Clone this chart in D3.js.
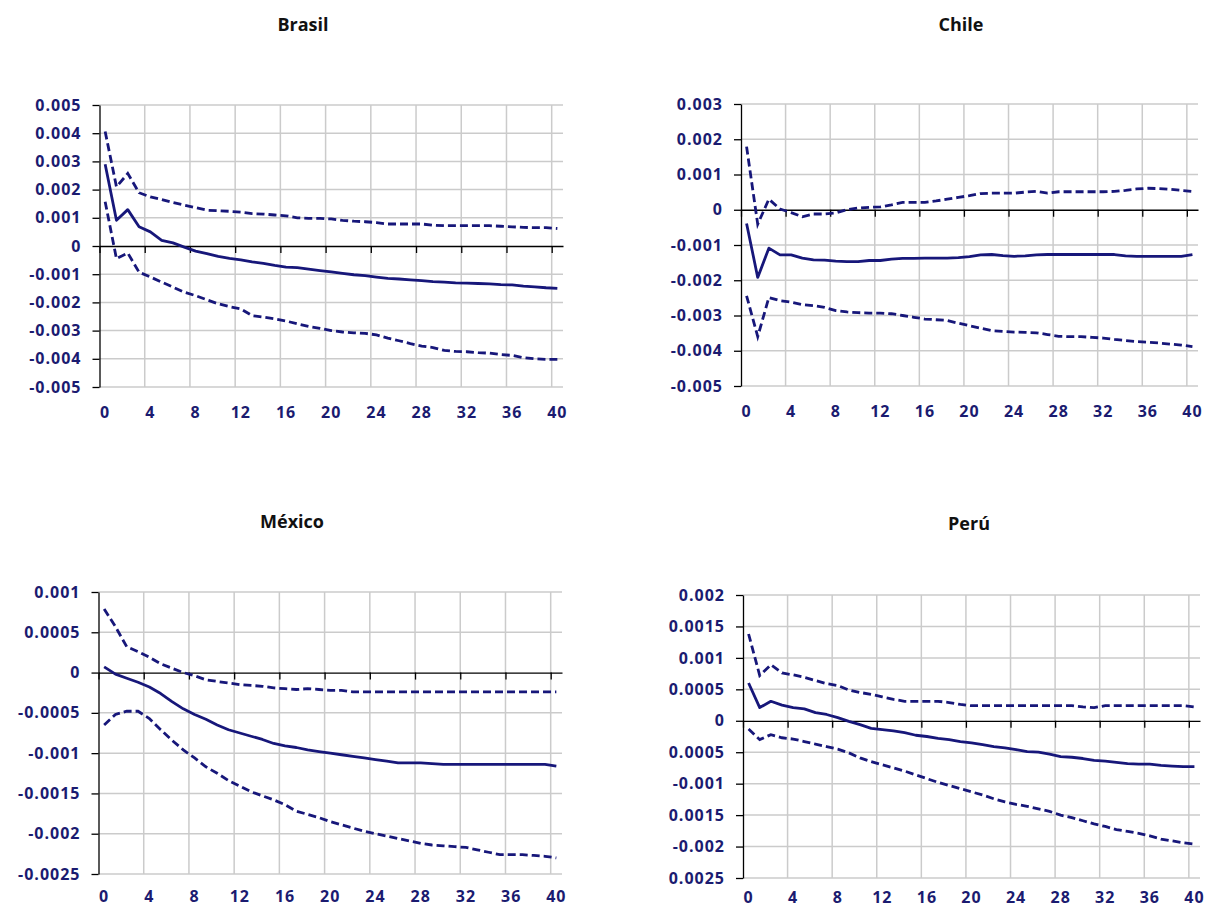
<!DOCTYPE html>
<html>
<head>
<meta charset="utf-8">
<script src="https://cdn.jsdelivr.net/npm/d3@7/dist/d3.min.js"></script>
<style>
  html, body { margin: 0; padding: 0; background: #ffffff; }
  svg { display: block; }
  .tick text { font-family: "Open Sans", sans-serif; font-weight: 700; font-size: 16px; fill: #1b1b70; letter-spacing: 1px; }
  .title { font-family: "Open Sans", sans-serif; font-weight: 700; font-size: 18px; fill: #111111; }
</style>
</head>
<body>
<svg id="chart" width="1211" height="909"></svg>
<script>
// Horizons (quarters after the shock)
const horizons = d3.range(0, 41);
const horizonLabels = [0, 4, 8, 12, 16, 20, 24, 28, 32, 36, 40];

// Brasil: impulse response and confidence bands
const brasilIrf = [0.0029, 0.00091, 0.00129, 0.00068, 0.0005, 0.0002, 0.00011, -0.00004, -0.00018, -0.00027, -0.00037, -0.00044, -0.00049, -0.00056, -0.00062, -0.00069, -0.00075, -0.00077, -0.00082, -0.00087, -0.00092, -0.00097, -0.00102, -0.00105, -0.0011, -0.00115, -0.00117, -0.0012, -0.00123, -0.00126, -0.00128, -0.00131, -0.00132, -0.00133, -0.00134, -0.00137, -0.00138, -0.00142, -0.00145, -0.00148, -0.0015];
const brasilUpper = [0.00406, 0.0021, 0.00257, 0.00189, 0.00174, 0.00165, 0.00154, 0.00145, 0.00136, 0.00127, 0.00125, 0.00123, 0.0012, 0.00115, 0.00113, 0.0011, 0.00107, 0.001, 0.00098, 0.00098, 0.00096, 0.00091, 0.00088, 0.00086, 0.00083, 0.00078, 0.00078, 0.00078, 0.00078, 0.00074, 0.00072, 0.00072, 0.00072, 0.00072, 0.00072, 0.0007, 0.00068, 0.00066, 0.00065, 0.00065, 0.00062];
const brasilLower = [0.00157, -0.00045, -0.00025, -0.00093, -0.0011, -0.00128, -0.00146, -0.00164, -0.00176, -0.00191, -0.00205, -0.00215, -0.00223, -0.00247, -0.00252, -0.00258, -0.00266, -0.00276, -0.00285, -0.00292, -0.003, -0.00305, -0.00308, -0.0031, -0.00315, -0.00327, -0.00336, -0.00346, -0.00355, -0.0036, -0.0037, -0.00374, -0.00375, -0.00378, -0.0038, -0.00385, -0.00388, -0.00396, -0.004, -0.00402, -0.00402];
const brasilTicks = [0.005, 0.004, 0.003, 0.002, 0.001, 0, -0.001, -0.002, -0.003, -0.004, -0.005];
const brasilTickText = ["0.005", "0.004", "0.003", "0.002", "0.001", "0", "-0.001", "-0.002", "-0.003", "-0.004", "-0.005"];

// Chile
const chileIrf = [-0.00039, -0.00192, -0.00109, -0.00128, -0.00128, -0.00137, -0.00142, -0.00143, -0.00146, -0.00147, -0.00147, -0.00144, -0.00144, -0.0014, -0.00138, -0.00138, -0.00137, -0.00137, -0.00137, -0.00136, -0.00133, -0.00128, -0.00127, -0.0013, -0.00132, -0.00131, -0.00128, -0.00127, -0.00127, -0.00127, -0.00127, -0.00127, -0.00127, -0.00127, -0.00131, -0.00132, -0.00132, -0.00132, -0.00132, -0.00132, -0.00127];
const chileUpper = [0.00179, -0.00041, 0.0003, 0.00002, -0.00008, -0.0002, -0.00012, -0.00012, -0.00009, 0, 0.00005, 0.00007, 0.00008, 0.00014, 0.00021, 0.00021, 0.00021, 0.00025, 0.0003, 0.00035, 0.0004, 0.00046, 0.00047, 0.00047, 0.00047, 0.0005, 0.00052, 0.00047, 0.00051, 0.00051, 0.00051, 0.00051, 0.00051, 0.00052, 0.00055, 0.00059, 0.00061, 0.0006, 0.00058, 0.00055, 0.00052];
const chileLower = [-0.00244, -0.0036, -0.00249, -0.00258, -0.00262, -0.00269, -0.00272, -0.00277, -0.00286, -0.0029, -0.00292, -0.00293, -0.00293, -0.00295, -0.003, -0.00305, -0.0031, -0.00312, -0.00314, -0.00322, -0.00329, -0.00336, -0.00343, -0.00345, -0.00347, -0.00348, -0.00349, -0.00354, -0.00359, -0.0036, -0.0036, -0.00362, -0.00364, -0.00368, -0.00371, -0.00374, -0.00376, -0.00378, -0.00381, -0.00384, -0.00388];
const chileTicks = [0.003, 0.002, 0.001, 0, -0.001, -0.002, -0.003, -0.004, -0.005];
const chileTickText = ["0.003", "0.002", "0.001", "0", "-0.001", "-0.002", "-0.003", "-0.004", "-0.005"];

// México
const mexicoIrf = [0.00007, -0.00002, -0.00007, -0.00012, -0.00018, -0.00026, -0.00036, -0.00045, -0.00052, -0.00058, -0.00065, -0.00071, -0.00075, -0.00079, -0.00083, -0.00088, -0.00091, -0.00093, -0.00096, -0.00098, -0.001, -0.00102, -0.00104, -0.00106, -0.00108, -0.0011, -0.00112, -0.00112, -0.00112, -0.00113, -0.00114, -0.00114, -0.00114, -0.00114, -0.00114, -0.00114, -0.00114, -0.00114, -0.00114, -0.00114, -0.00116];
const mexicoUpper = [0.00079, 0.00057, 0.00032, 0.00026, 0.00019, 0.00011, 0.000054, 0, -0.00004, -0.00009, -0.00011, -0.00013, -0.00015, -0.00016, -0.00017, -0.00019, -0.0002, -0.00021, -0.0002, -0.00021, -0.00022, -0.00022, -0.00024, -0.00024, -0.00024, -0.00024, -0.00024, -0.00024, -0.00024, -0.00024, -0.00024, -0.00024, -0.00024, -0.00024, -0.00024, -0.00024, -0.00024, -0.00024, -0.00024, -0.00024, -0.00024];
const mexicoLower = [-0.00065, -0.00052, -0.00048, -0.00048, -0.00057, -0.00071, -0.00084, -0.00096, -0.00106, -0.00117, -0.00125, -0.00134, -0.00141, -0.00148, -0.00153, -0.00158, -0.00164, -0.00172, -0.00176, -0.0018, -0.00185, -0.00189, -0.00193, -0.00197, -0.002, -0.00203, -0.00206, -0.00209, -0.00212, -0.00214, -0.00215, -0.00216, -0.00217, -0.0022, -0.00223, -0.00226, -0.00226, -0.00226, -0.00227, -0.00228, -0.0023];
const mexicoTicks = [0.001, 0.0005, 0, -0.0005, -0.001, -0.0015, -0.002, -0.0025];
const mexicoTickText = ["0.001", "0.0005", "0", "-0.0005", "-0.001", "-0.0015", "-0.002", "-0.0025"];

// Perú
const peruIrf = [0.0006, 0.00021, 0.00031, 0.00025, 0.00021, 0.00019, 0.00013, 0.0001, 0.00005, -0.00001, -0.00006, -0.00012, -0.00014, -0.00016, -0.00019, -0.00023, -0.00025, -0.00028, -0.0003, -0.00033, -0.00035, -0.00038, -0.00041, -0.00043, -0.00046, -0.00049, -0.0005, -0.00053, -0.00057, -0.00058, -0.0006, -0.00063, -0.00064, -0.00066, -0.00068, -0.00069, -0.00069, -0.00071, -0.00072, -0.00073, -0.00073];
const peruUpper = [0.00138, 0.00072, 0.00089, 0.00076, 0.00073, 0.00069, 0.00064, 0.00059, 0.00056, 0.00049, 0.00045, 0.00042, 0.00038, 0.00034, 0.00031, 0.00031, 0.00031, 0.00031, 0.00029, 0.00026, 0.00024, 0.00024, 0.00024, 0.00024, 0.00024, 0.00024, 0.00024, 0.00024, 0.00024, 0.00024, 0.00022, 0.00021, 0.00024, 0.00024, 0.00024, 0.00024, 0.00024, 0.00024, 0.00024, 0.00024, 0.00022];
const peruLower = [-0.00013, -0.0003, -0.00022, -0.00027, -0.00029, -0.00033, -0.00037, -0.00041, -0.00045, -0.00051, -0.00059, -0.00065, -0.0007, -0.00075, -0.0008, -0.00086, -0.00092, -0.00098, -0.00103, -0.00108, -0.00113, -0.00118, -0.00124, -0.00129, -0.00133, -0.00136, -0.0014, -0.00144, -0.0015, -0.00154, -0.00159, -0.00164, -0.00168, -0.00173, -0.00176, -0.00179, -0.00183, -0.00188, -0.00191, -0.00194, -0.00196];
const peruTicks = [0.002, 0.0015, 0.001, 0.0005, 0, -0.0005, -0.001, -0.0015, -0.002, -0.0025];
const peruTickText = ["0.002", "0.0015", "0.001", "0.0005", "0", "0.0005", "-0.001", "0.0015", "-0.002", "0.0025"];

const panels = [
  { title: "Brasil", irf: brasilIrf, upper: brasilUpper, lower: brasilLower, ticks: brasilTicks, tickText: brasilTickText,
    left: 99.5, right: 563, top: 105, bottom: 387, labelPad: 20, titleX: 303, titleY: 25 },
  { title: "Chile", irf: chileIrf, upper: chileUpper, lower: chileLower, ticks: chileTicks, tickText: chileTickText,
    left: 741, right: 1198, top: 104, bottom: 386, labelPad: 20, titleX: 961, titleY: 25 },
  { title: "México", irf: mexicoIrf, upper: mexicoUpper, lower: mexicoLower, ticks: mexicoTicks, tickText: mexicoTickText,
    left: 98.5, right: 562, top: 592, bottom: 874, labelPad: 17, titleX: 292, titleY: 522 },
  { title: "Perú", irf: peruIrf, upper: peruUpper, lower: peruLower, ticks: peruTicks, tickText: peruTickText,
    left: 743, right: 1200, top: 595, bottom: 878, labelPad: 14, titleX: 969, titleY: 524 }
];

const lineColor = "#17177a";
const gridColor = "#cbcbcb";
const svg = d3.select("#chart");

panels.forEach(p => {
  const g = svg.append("g");

  const x = d3.scaleBand().domain(horizons).range([p.left, p.right]).padding(0);
  const xEdge = d3.scaleLinear().domain([0, horizons.length]).range([p.left, p.right]);
  const y = d3.scaleLinear().domain([d3.min(p.ticks), d3.max(p.ticks)]).range([p.bottom, p.top]);
  const cx = k => x(k) + x.bandwidth() / 2;

  // grid
  g.append("g").selectAll("line.h").data(p.ticks.filter(t => t !== 0)).join("line")
    .attr("x1", p.left).attr("x2", p.right)
    .attr("y1", d => y(d)).attr("y2", d => y(d))
    .attr("stroke", gridColor).attr("stroke-width", 1.5);
  g.append("g").selectAll("line.v").data(horizonLabels.filter(k => k > 0)).join("line")
    .attr("x1", d => xEdge(d)).attr("x2", d => xEdge(d))
    .attr("y1", p.top).attr("y2", p.bottom)
    .attr("stroke", gridColor).attr("stroke-width", 1.5);

  // value axis
  const yAxis = g.append("g").attr("transform", `translate(${p.left},0)`)
    .call(d3.axisLeft(y).tickValues(p.ticks).tickFormat((d, i) => p.tickText[i])
      .tickSize(7).tickSizeOuter(0).tickPadding(11));
  yAxis.selectAll("path, line").attr("stroke", "#000").attr("stroke-width", 1.3);

  // category axis crossing at zero
  const zAxis = g.append("g").attr("transform", `translate(0,${y(0)})`)
    .call(d3.axisBottom(xEdge).tickValues(horizonLabels).tickFormat("").tickSize(7).tickSizeOuter(0));
  zAxis.selectAll("path, line").attr("stroke", "#000").attr("stroke-width", 1.3);

  // horizon labels below the plot
  g.append("g").attr("transform", `translate(0,${p.bottom})`)
    .call(d3.axisBottom(x).tickValues(horizonLabels).tickSize(0).tickPadding(p.labelPad))
    .call(a => a.select(".domain").remove());

  // response and bands
  const line = d3.line().x((d, i) => cx(horizons[i])).y(d => y(d));
  g.append("path").datum(p.upper).attr("d", line)
    .attr("fill", "none").attr("stroke", lineColor).attr("stroke-width", 2.8)
    .attr("stroke-dasharray", "8,4");
  g.append("path").datum(p.lower).attr("d", line)
    .attr("fill", "none").attr("stroke", lineColor).attr("stroke-width", 2.8)
    .attr("stroke-dasharray", "8,4");
  g.append("path").datum(p.irf).attr("d", line)
    .attr("fill", "none").attr("stroke", lineColor).attr("stroke-width", 2.8)
    .attr("stroke-linejoin", "round");

  svg.append("text").attr("class", "title")
    .attr("x", p.titleX).attr("y", p.titleY).attr("dy", "0.35em")
    .attr("text-anchor", "middle").text(p.title);
});
</script>
</body>
</html>
